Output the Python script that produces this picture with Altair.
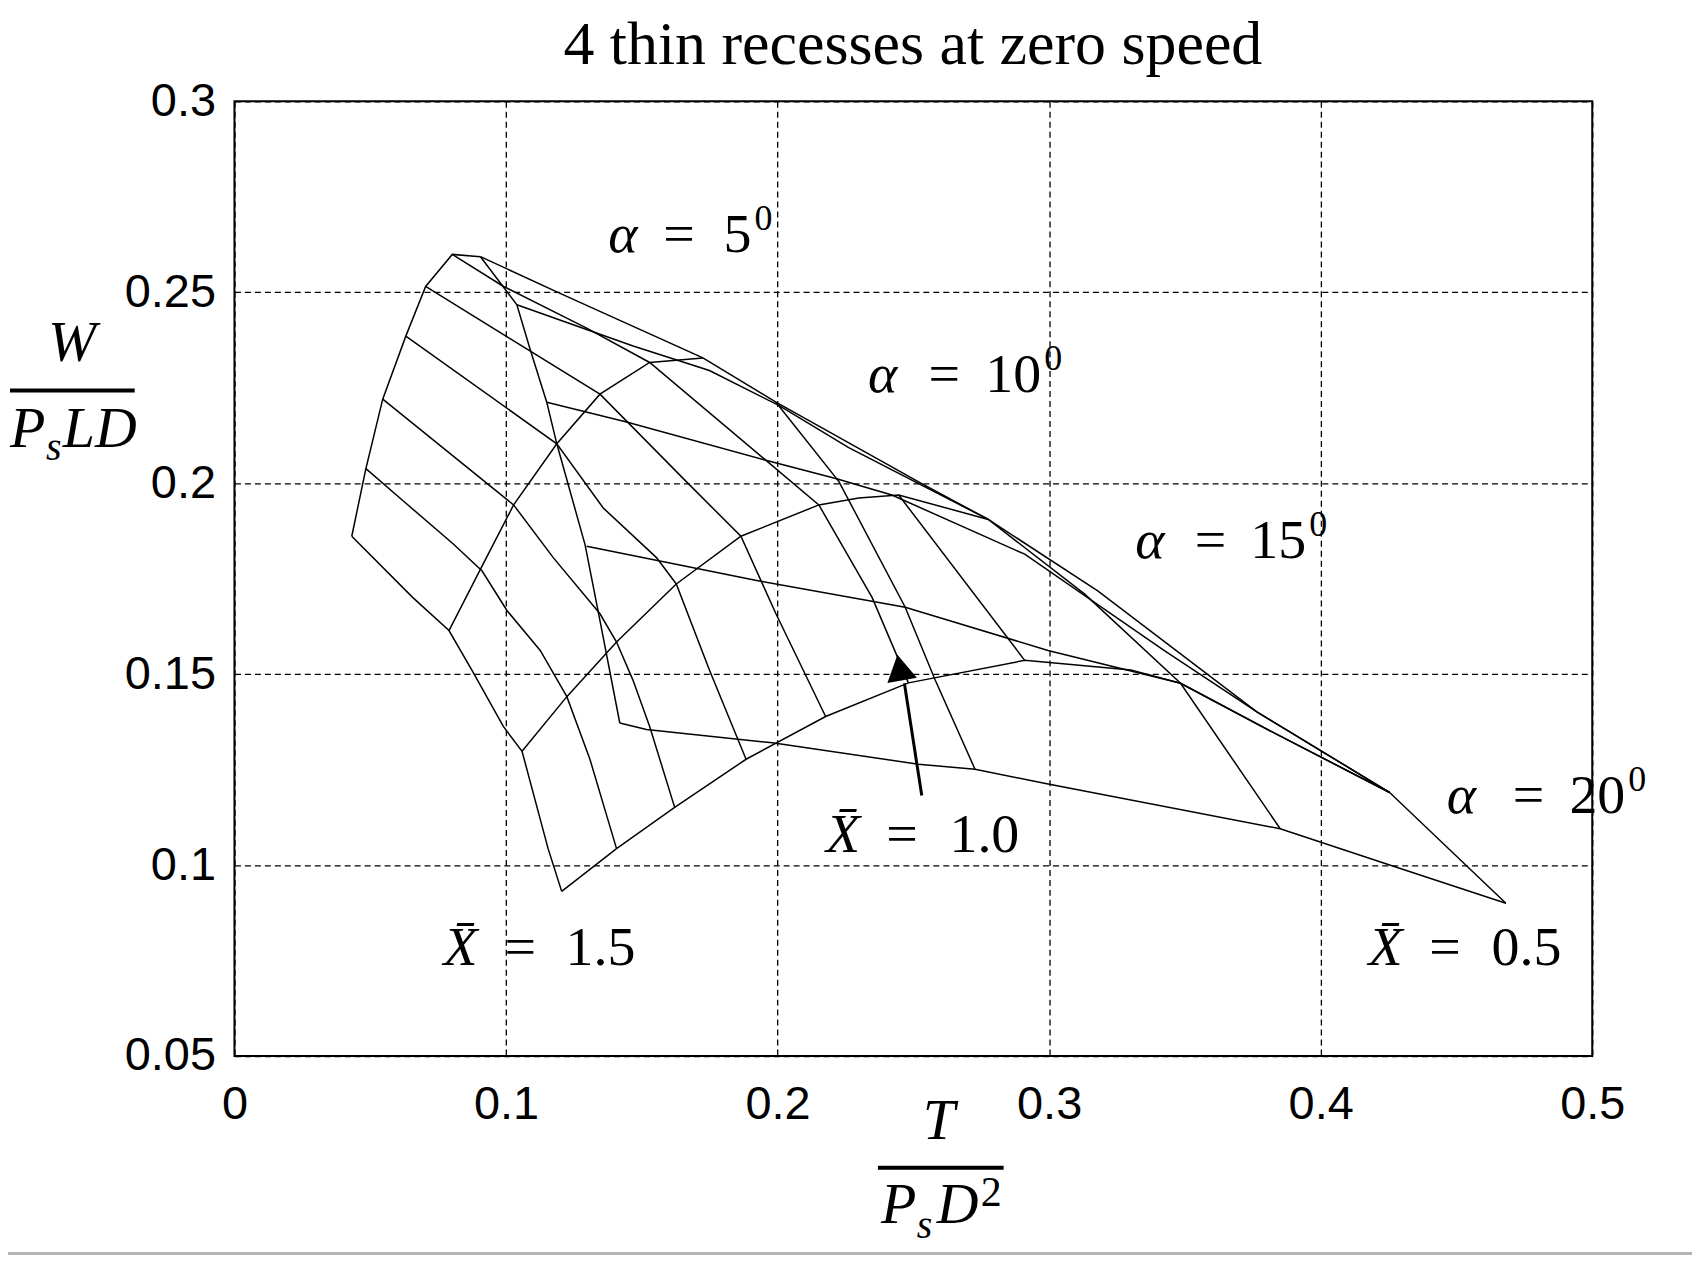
import altair as alt
import pandas as pd

# wireframe polylines, as (T/(Ps D^2), W/(Ps L D)) pairs
r0 = [(0.0432, 0.1861), (0.0484, 0.2038), (0.0546, 0.2220), (0.0631, 0.2385),
      (0.0704, 0.2515), (0.0802, 0.2599), (0.0906, 0.2593)]
c0 = [(0.0432, 0.1861), (0.0656, 0.1701), (0.0790, 0.1614), (0.0880, 0.1503),
      (0.0990, 0.1363), (0.1059, 0.1298), (0.1155, 0.1043), (0.1205, 0.0931)]
r1 = [(0.0790, 0.1614), (0.0906, 0.1775), (0.1028, 0.1943), (0.1187, 0.2103),
      (0.1346, 0.2233), (0.1529, 0.2316), (0.1725, 0.2328)]
r2 = [(0.1059, 0.1298), (0.1224, 0.1441), (0.1407, 0.1584), (0.1627, 0.1736),
      (0.1865, 0.1861), (0.2152, 0.1943), (0.2299, 0.1961), (0.2446, 0.1969),
      (0.2776, 0.1905)]
r3 = [(0.1205, 0.0931), (0.1407, 0.1043), (0.1621, 0.1151), (0.1884, 0.1277),
      (0.2177, 0.1389), (0.2482, 0.1477), (0.2910, 0.1536), (0.3301, 0.1511),
      (0.3484, 0.1476), (0.3839, 0.1342), (0.4254, 0.1190)]
env = [(0.0906, 0.2593), (0.1199, 0.2497), (0.1725, 0.2328), (0.1994, 0.2212),
       (0.2531, 0.1999), (0.2776, 0.1905), (0.3179, 0.1718), (0.3765, 0.1401),
       (0.4254, 0.1190), (0.4682, 0.0900)]
c1 = [(0.0484, 0.2038), (0.0624, 0.1952), (0.0807, 0.1840), (0.0912, 0.1770),
      (0.1004, 0.1666), (0.1126, 0.1562), (0.1224, 0.1441), (0.1309, 0.1277),
      (0.1407, 0.1043)]
c2 = [(0.0546, 0.2220), (0.1028, 0.1943), (0.1174, 0.1805), (0.1346, 0.1658),
      (0.1407, 0.1584), (0.1467, 0.1485), (0.1529, 0.1363), (0.1621, 0.1151)]
c3 = [(0.0631, 0.2385), (0.1187, 0.2103), (0.1358, 0.1935), (0.1554, 0.1805),
      (0.1627, 0.1736), (0.1749, 0.1511), (0.1884, 0.1277)]
c4 = [(0.0704, 0.2515), (0.1346, 0.2233), (0.1664, 0.2004), (0.1865, 0.1861),
      (0.1994, 0.1658), (0.2177, 0.1389)]
c5 = [(0.0802, 0.2599), (0.0991, 0.2515), (0.1297, 0.2406), (0.1529, 0.2316),
      (0.2152, 0.1943), (0.2348, 0.1701), (0.2482, 0.1477)]
c6 = [(0.2446, 0.1969), (0.2910, 0.1536)]
c7 = [(0.2776, 0.1905), (0.3130, 0.1710), (0.3484, 0.1476), (0.3851, 0.1095)]
d0 = [(0.0906, 0.2593), (0.1040, 0.2467), (0.1089, 0.2350), (0.1150, 0.2212),
      (0.1187, 0.2103), (0.1291, 0.1839), (0.1346, 0.1640), (0.1419, 0.1372)]
d1 = [(0.1994, 0.2212), (0.2226, 0.2004), (0.2470, 0.1675), (0.2580, 0.1485),
      (0.2727, 0.1251)]
b0 = [(0.1040, 0.2467), (0.1468, 0.2359), (0.1749, 0.2295), (0.2006, 0.2203),
      (0.2262, 0.2093), (0.2776, 0.1905)]
b1 = [(0.1150, 0.2212), (0.1444, 0.2160), (0.1957, 0.2060), (0.2214, 0.2012),
      (0.2421, 0.1969), (0.2910, 0.1814), (0.3423, 0.1562), (0.3765, 0.1401),
      (0.4254, 0.1190)]
b2 = [(0.1297, 0.1835), (0.1932, 0.1744), (0.2470, 0.1675), (0.2996, 0.1562),
      (0.3484, 0.1476), (0.3839, 0.1342), (0.4254, 0.1190)]
b3 = [(0.1419, 0.1372), (0.1517, 0.1355), (0.1981, 0.1320), (0.2519, 0.1264),
      (0.2727, 0.1251), (0.2996, 0.1212), (0.3851, 0.1095), (0.4254, 0.1000),
      (0.4682, 0.0900)]

# alpha annotations: symbol, "=", the number (superscript 0 follows the number)
alpha_vals = ["5", "10", "15", "20"]
alpha_sym_t = [0.1430, 0.2387, 0.3371, 0.4518]
alpha_eq_t = [0.1637, 0.2614, 0.3594, 0.4765]
alpha_num_t = [0.1801, 0.2765, 0.3741, 0.4916]
alpha_w = [0.2605, 0.2238, 0.1804, 0.1137]

# X-bar annotations
xbar_vals = ["1.0", "1.5", "0.5"]
xbar_sym_t = [0.2241, 0.0833, 0.4239]
xbar_eq_t = [0.2458, 0.1052, 0.4458]
xbar_num_t = [0.2633, 0.1219, 0.4629]
xbar_w = [0.1035, 0.0737, 0.0737]

arrow_tail = (0.2531, 0.1182)
arrow_base = (0.2467, 0.1476)
arrow_head = (0.2450, 0.1517)

x_ticks = [0, 0.1, 0.2, 0.3, 0.4, 0.5]
y_ticks = [0.05, 0.1, 0.15, 0.2, 0.25, 0.3]

lines = {"r0": r0, "r1": r1, "r2": r2, "r3": r3, "env": env,
         "c0": c0, "c1": c1, "c2": c2, "c3": c3, "c4": c4, "c5": c5, "c6": c6, "c7": c7,
         "d0": d0, "d1": d1, "b0": b0, "b1": b1, "b2": b2, "b3": b3}

rows = []
for name, pts in lines.items():
    for i, (t, w) in enumerate(pts):
        rows.append({"line": name, "i": i, "T": t, "W": w})
mesh_df = pd.DataFrame(rows)

PLOT_W, PLOT_H = 1361, 957
xs = alt.Scale(domain=[0, 0.5], nice=False, zero=False)
ys = alt.Scale(domain=[0.05, 0.3], nice=False, zero=False)
SERIF = "Liberation Serif"
LABEL_SIZE = 56

mesh = alt.Chart(mesh_df).mark_line(color="black", strokeWidth=1.5).encode(
    x=alt.X("T:Q", scale=xs, axis=alt.Axis(values=x_ticks, format="~g", title=None,
                                          labelFlush=False, labelPadding=26)),
    y=alt.Y("W:Q", scale=ys, axis=alt.Axis(values=y_ticks, format="~g", title=None,
                                          labelFlush=False, labelPadding=19)),
    detail="line:N",
    order="i:Q",
)


def data_text(txt, t, w, size=LABEL_SIZE, italic=False, align="left", dy=0):
    df = pd.DataFrame({"txt": txt, "T": t, "W": w})
    return alt.Chart(df).mark_text(
        font=SERIF, fontSize=size, fontStyle="italic" if italic else "normal",
        align=align, baseline="alphabetic", color="black", dy=dy
    ).encode(x=alt.X("T:Q", scale=xs), y=alt.Y("W:Q", scale=ys), text="txt:N")


# the degree-style superscript sits right after the digits (0.5 em per digit)
px_per_t = PLOT_W / 0.5
alpha_sup_t = [t + (0.5 * LABEL_SIZE * len(v) + 3) / px_per_t
               for t, v in zip(alpha_num_t, alpha_vals)]

alpha_sym = data_text(["α"] * 4, alpha_sym_t, alpha_w, italic=True, align="center")
alpha_eq = data_text(["="] * 4, alpha_eq_t, alpha_w, align="center")
alpha_num = data_text(alpha_vals, alpha_num_t, alpha_w)
alpha_sup = data_text(["0"] * 4, alpha_sup_t, alpha_w, size=36, dy=-22)
xbar_sym = data_text(["X̄"] * 3, xbar_sym_t, xbar_w, italic=True, align="center")
xbar_eq = data_text(["="] * 3, xbar_eq_t, xbar_w, align="center")
xbar_num = data_text(xbar_vals, xbar_num_t, xbar_w)

shaft = alt.Chart(pd.DataFrame({"T": [arrow_tail[0]], "W": [arrow_tail[1]],
                                "T2": [arrow_base[0]], "W2": [arrow_base[1]]})).mark_rule(
    color="black", strokeWidth=3
).encode(x=alt.X("T:Q", scale=xs), y=alt.Y("W:Q", scale=ys), x2="T2:Q", y2="W2:Q")

head = alt.Chart(pd.DataFrame({"T": [arrow_head[0]], "W": [arrow_head[1]]})).mark_point(
    shape="triangle-up", filled=True, color="black", opacity=1, size=900, angle=349.6
).encode(x=alt.X("T:Q", scale=xs), y=alt.Y("W:Q", scale=ys))


def piece(s, x, y, size=58, italic=True, align="left"):
    return alt.Chart(pd.DataFrame({"a": [0]})).mark_text(
        text=s, font=SERIF, fontSize=size, fontStyle="italic" if italic else "normal",
        align=align, baseline="alphabetic", color="black"
    ).encode(x=alt.value(x), y=alt.value(y))


def bar(x1, x2, y):
    return alt.Chart(pd.DataFrame({"a": [0]})).mark_rule(color="black", strokeWidth=4).encode(
        x=alt.value(x1), x2=alt.value(x2), y=alt.value(y))


# title and the two stacked-fraction axis titles
title = piece("4 thin recesses at zero speed", 680, -37, size=62, italic=False, align="center")
x_title = [
    piece("T", 690, 1040),
    bar(645, 771, 1069),
    piece("P", 648, 1124),
    piece("s", 684, 1139, size=40),
    piece("D", 704, 1124),
    piece("2", 748, 1107, size=42, italic=False),
]
y_title = [
    piece("W", -187, 260),
    bar(-225, -100, 290),
    piece("P", -225, 347),
    piece("s", -189, 360, size=40),
    piece("LD", -172, 347),
]

border = alt.Chart(pd.DataFrame({"a": [0]})).mark_rule(color="#b4b4b4", strokeWidth=3).encode(
    x=alt.value(-240), x2=alt.value(1470), y=alt.value(1155))

chart = alt.layer(
    mesh, alpha_sym, alpha_eq, alpha_num, alpha_sup, xbar_sym, xbar_eq, xbar_num,
    shaft, head, title, *x_title, *y_title, border
).properties(
    width=PLOT_W,
    height=PLOT_H,
    autosize=alt.AutoSizeParams(type="none"),
    padding={"left": 227, "top": 92, "right": 100, "bottom": 200},
).configure_view(
    stroke="black", strokeWidth=2
).configure_axis(
    grid=True, gridColor="black", gridDash=[6, 4], gridWidth=1.3, gridOpacity=1,
    domain=False, ticks=False, labelFont="Liberation Sans", labelFontSize=47,
    labelColor="black",
)

chart.save("out.html", embed_options={"renderer": "svg", "actions": False})
